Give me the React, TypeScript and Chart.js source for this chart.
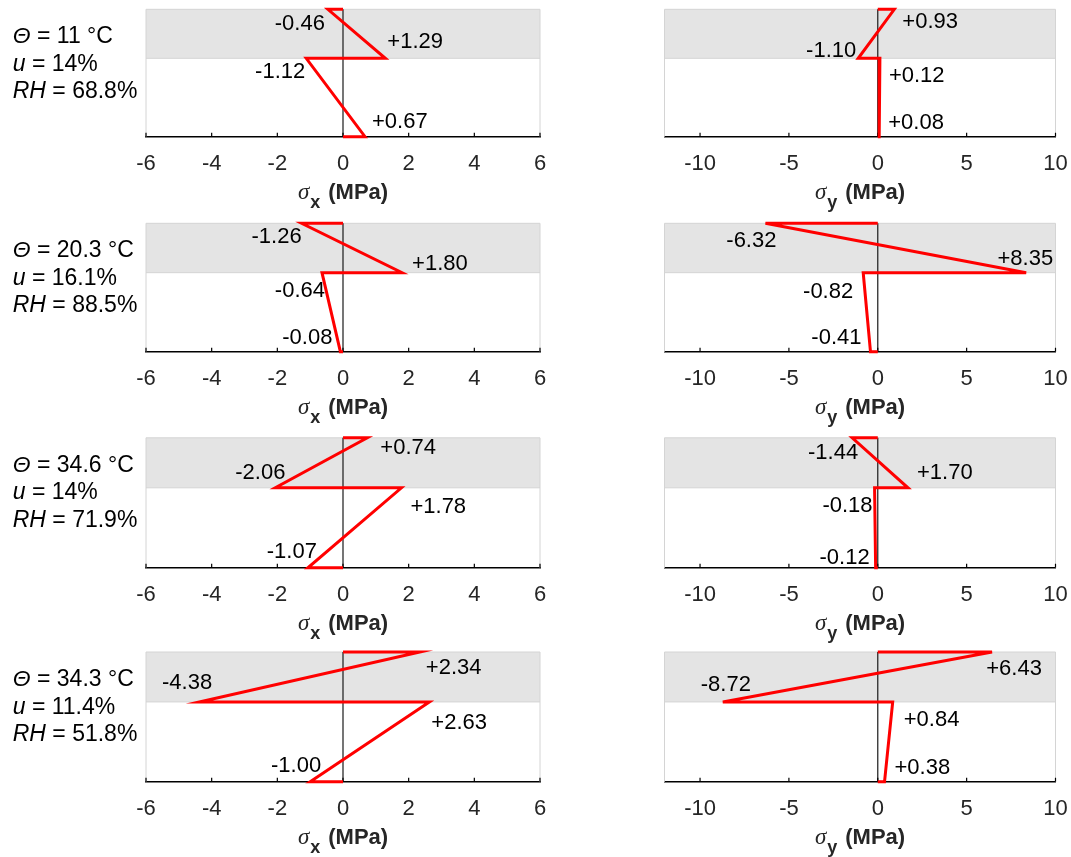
import React, { useEffect, useRef } from 'react';
import { Chart, registerables } from 'chart.js';

Chart.register(...registerables);

// ---------- DATA ----------
// depth below the surface (mm) of the six profile points
const depthLevels = [0, 0, 10, 10, 26, 26];
const layerDepth = 10;
const totalDepth = 26;

// climate conditions per row
const thetaC = ['11', '20.3', '34.6', '34.3'];
const moistureU = ['14', '16.1', '14', '11.4'];
const relHumidity = ['68.8', '88.5', '71.9', '51.8'];

// stresses: [surface, end of top layer, start of lower layer, bottom]
const sigmaXCase1 = [-0.46, 1.29, -1.12, 0.67];
const sigmaXCase2 = [-1.26, 1.8, -0.64, -0.08];
const sigmaXCase3 = [0.74, -2.06, 1.78, -1.07];
const sigmaXCase4 = [2.34, -4.38, 2.63, -1.0];

const sigmaYCase1 = [0.93, -1.1, 0.12, 0.08];
const sigmaYCase2 = [-6.32, 8.35, -0.82, -0.41];
const sigmaYCase3 = [-1.44, 1.7, -0.18, -0.12];
const sigmaYCase4 = [6.43, -8.72, 0.84, 0.38];

const sigmaXTicks = [-6, -4, -2, 0, 2, 4, 6];
const sigmaYTicks = [-10, -5, 0, 5, 10];

const sigmaXSeries = [sigmaXCase1, sigmaXCase2, sigmaXCase3, sigmaXCase4];
const sigmaYSeries = [sigmaYCase1, sigmaYCase2, sigmaYCase3, sigmaYCase4];

// ---------- LAYOUT ----------
const ROWS = [
  { top: 9.3, bottom: 136.7 },
  { top: 223.3, bottom: 351.7 },
  { top: 437.8, bottom: 567.8 },
  { top: 652, bottom: 781.8 },
];
const COLS = [
  { canvasLeft: 0, width: 580, plotLeft: 146, plotRight: 540, min: -6, max: 6, sub: 'x' },
  { canvasLeft: 560, width: 540, plotLeft: 664.5, plotRight: 1055.5, min: -12, max: 10, sub: 'y' },
];
const AXIS_SPACE = 75;

type Place = [CanvasTextAlign, number, number];
const placeX: Place[][] = [
  [['right', -3, 15], ['left', 2, -16], ['right', -1, 14], ['left', 7, -15]],
  [['right', 0, 14], ['left', 10, -9], ['right', 3, 18], ['right', -8, -14]],
  [['left', 13, 10], ['right', 10, -15], ['left', 9, 19], ['right', 9, -16]],
  [['left', 6, 16], ['right', 13, -19], ['left', 2, 21], ['right', 11, -16]],
];
const placeY: Place[][] = [
  [['left', 8, 13], ['right', -2, -7], ['left', 9, 18], ['left', 9, -14]],
  [['right', 11, 18], ['right', 27, -14], ['right', -10, 19], ['right', -9, -14]],
  [['right', 6, 15], ['left', 9, -15], ['right', -2, 18], ['right', -6, -10]],
  [['center', 22, 17], ['center', 3, -17], ['left', 11, 18], ['left', 10, -13.5]],
];

const SANS = "'Liberation Sans', Arial, sans-serif";
const SERIF = "'Liberation Serif', 'Times New Roman', serif";

const fmt = (v: number) => (v > 0 ? '+' : '') + v.toFixed(2);

type Seg = { text: string; font: string; dy?: number; gap?: number };

function drawSegments(ctx: CanvasRenderingContext2D, x: number, y: number, segs: Seg[], align: 'left' | 'center') {
  let total = 0;
  const widths = segs.map((s) => {
    ctx.font = s.font;
    const w = ctx.measureText(s.text).width;
    total += w + (s.gap || 0);
    return w;
  });
  let cx = align === 'center' ? x - total / 2 : x;
  ctx.textAlign = 'left';
  ctx.textBaseline = 'alphabetic';
  segs.forEach((s, i) => {
    ctx.font = s.font;
    ctx.fillText(s.text, cx, y + (s.dy || 0));
    cx += widths[i] + (s.gap || 0);
  });
}

function Panel({ rowIdx, colIdx }: { rowIdx: number; colIdx: number }) {
  const ref = useRef<HTMLCanvasElement>(null);
  const row = ROWS[rowIdx];
  const col = COLS[colIdx];
  const canvasTop = Math.floor(row.top) - 9;
  const padTop = row.top - canvasTop;
  const plotH = row.bottom - row.top;
  const canvasH = Math.ceil(padTop + plotH + AXIS_SPACE);
  const axisH = canvasH - padTop - plotH;

  useEffect(() => {
    const canvas = ref.current;
    if (!canvas) return;
    const values = colIdx === 0 ? sigmaXSeries[rowIdx] : sigmaYSeries[rowIdx];
    const tickVals = colIdx === 0 ? sigmaXTicks : sigmaYTicks;
    const places = colIdx === 0 ? placeX[rowIdx] : placeY[rowIdx];
    const xs = [0, ...values, 0];
    const points = xs.map((x, i) => ({ x, y: depthLevels[i] }));

    const panelPlugin = {
      id: 'panelDeco',
      beforeDatasetsDraw(chart: any) {
        const { ctx, chartArea: a, scales } = chart;
        const xS = scales.x;
        const yS = scales.y;
        const yLayer = yS.getPixelForValue(layerDepth);
        ctx.save();
        // shaded top layer
        ctx.fillStyle = '#e4e4e4';
        ctx.fillRect(a.left, a.top, a.right - a.left, yLayer - a.top);
        // light box outline
        ctx.strokeStyle = '#d4d4d4';
        ctx.lineWidth = 1;
        ctx.beginPath();
        ctx.moveTo(a.left, a.bottom);
        ctx.lineTo(a.left, a.top);
        ctx.lineTo(a.right, a.top);
        ctx.lineTo(a.right, a.bottom);
        ctx.moveTo(a.left, yLayer);
        ctx.lineTo(a.right, yLayer);
        ctx.stroke();
        // zero line
        const x0 = xS.getPixelForValue(0);
        ctx.strokeStyle = '#1a1a1a';
        ctx.lineWidth = 1.2;
        ctx.beginPath();
        ctx.moveTo(x0, a.top);
        ctx.lineTo(x0, a.bottom);
        ctx.stroke();
        // inward tick marks
        ctx.strokeStyle = '#000';
        ctx.lineWidth = 1.2;
        ctx.beginPath();
        xS.ticks.forEach((t: any) => {
          const px = xS.getPixelForValue(t.value);
          ctx.moveTo(px, a.bottom);
          ctx.lineTo(px, a.bottom - 4);
        });
        ctx.stroke();
        ctx.restore();
      },
      afterDatasetsDraw(chart: any) {
        const { ctx, scales } = chart;
        const xS = scales.x;
        const yS = scales.y;
        ctx.save();
        ctx.fillStyle = '#000';
        ctx.font = `22px ${SANS}`;
        ctx.textBaseline = 'middle';
        values.forEach((v, i) => {
          const px = xS.getPixelForValue(v);
          const py = yS.getPixelForValue(depthLevels[i + 1]);
          const [align, dx, dy] = places[i];
          ctx.textAlign = align;
          ctx.fillText(fmt(v), px + dx, py + dy);
        });
        ctx.restore();
      },
      afterDraw(chart: any) {
        const { ctx, chartArea: a } = chart;
        ctx.save();
        ctx.fillStyle = '#262626';
        const cx = (a.left + a.right) / 2;
        drawSegments(
          ctx,
          cx,
          a.bottom + 62.5,
          [
            { text: 'σ', font: `italic 23px ${SERIF}`, gap: 1 },
            { text: col.sub, font: `bold 18px ${SANS}`, dy: 9, gap: 8 },
            { text: '(MPa)', font: `bold 22px ${SANS}`, dy: -0.5 },
          ],
          'center'
        );
        if (colIdx === 0) {
          ctx.fillStyle = '#000';
          const x = 12.7;
          const base = a.top + 34;
          drawSegments(ctx, x, base, [
            { text: 'Θ', font: `italic 23px ${SANS}` },
            { text: ` = ${thetaC[rowIdx]} °C`, font: `23px ${SANS}` },
          ], 'left');
          drawSegments(ctx, x, base + 27.5, [
            { text: 'u', font: `italic 23px ${SANS}` },
            { text: ` = ${moistureU[rowIdx]}%`, font: `23px ${SANS}` },
          ], 'left');
          drawSegments(ctx, x, base + 55, [
            { text: 'RH', font: `italic 23px ${SANS}` },
            { text: ` = ${relHumidity[rowIdx]}%`, font: `23px ${SANS}` },
          ], 'left');
        }
        ctx.restore();
      },
    };

    const chart = new Chart(canvas, {
      type: 'line',
      data: {
        datasets: [
          {
            data: points,
            borderColor: '#ff0000',
            borderWidth: 3,
            pointRadius: 0,
            tension: 0,
            fill: false,
            clip: false as any,
            borderJoinStyle: 'miter',
          },
        ],
      },
      options: {
        responsive: false,
        animation: false,
        devicePixelRatio: 1,
        layout: {
          padding: {
            left: col.plotLeft - col.canvasLeft,
            right: col.canvasLeft + col.width - col.plotRight,
            top: padTop,
            bottom: 0,
          },
        },
        plugins: { legend: { display: false }, tooltip: { enabled: false } },
        scales: {
          x: {
            type: 'linear',
            min: col.min,
            max: col.max,
            afterBuildTicks: (s: any) => {
              s.ticks = tickVals.map((v) => ({ value: v }));
            },
            afterFit: (s: any) => {
              s.height = axisH;
            },
            grid: { display: true, drawOnChartArea: false, drawTicks: false },
            border: { display: true, color: '#000', width: 1.5 },
            ticks: {
              padding: 14,
              color: '#262626',
              font: { family: SANS, size: 22 },
              maxRotation: 0,
              autoSkip: false,
              callback: (v: any) => String(v),
            },
          },
          y: { type: 'linear', min: 0, max: totalDepth, reverse: true, display: false },
        },
      } as any,
      plugins: [panelPlugin],
    });
    return () => chart.destroy();
  }, []);

  return (
    <canvas
      ref={ref}
      width={col.width}
      height={canvasH}
      style={{ position: 'absolute', left: col.canvasLeft, top: canvasTop, width: col.width, height: canvasH, display: 'block' }}
    />
  );
}

export default function App() {
  return (
    <div
      style={{ position: 'absolute', left: 0, top: 0, width: 1071, height: 857, overflow: 'hidden', background: '#fff' }}
    >
      {ROWS.map((_, r) => (
        <React.Fragment key={r}>
          <Panel rowIdx={r} colIdx={0} />
          <Panel rowIdx={r} colIdx={1} />
        </React.Fragment>
      ))}
    </div>
  );
}
